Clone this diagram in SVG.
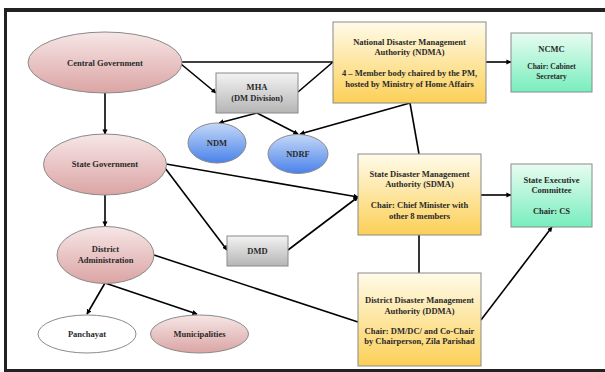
<svg xmlns="http://www.w3.org/2000/svg" width="605" height="372" viewBox="0 0 605 372">
<defs>
<linearGradient id="gPink" x1="0" y1="0" x2="0" y2="1"><stop offset="0" stop-color="#f7e6e6"/><stop offset="1" stop-color="#dba4a4"/></linearGradient>
<linearGradient id="gBlue" x1="0" y1="0" x2="0" y2="1"><stop offset="0" stop-color="#c4d8f7"/><stop offset="1" stop-color="#4a82ea"/></linearGradient>
<linearGradient id="gGray" x1="0" y1="0" x2="0" y2="1"><stop offset="0" stop-color="#f3f3f3"/><stop offset="1" stop-color="#b5b5b5"/></linearGradient>
<linearGradient id="gYellow" x1="0" y1="0" x2="0" y2="1"><stop offset="0" stop-color="#fffbea"/><stop offset="1" stop-color="#fcd057"/></linearGradient>
<linearGradient id="gGreen" x1="0" y1="0" x2="0" y2="1"><stop offset="0" stop-color="#e8fcf1"/><stop offset="1" stop-color="#78eebd"/></linearGradient>
<marker id="arr" viewBox="0 0 10 10" refX="9" refY="5" markerWidth="3.2" markerHeight="3.2" orient="auto" markerUnits="strokeWidth"><path d="M0,0 L10,5 L0,10 z" fill="#000"/></marker>
</defs>
<style>
.nd{stroke:#8a8a8a;stroke-width:1}
.t{font-family:"Liberation Serif","Times New Roman",serif;font-weight:bold;font-size:8.5px;fill:#2a2a2a;text-anchor:middle}
.s{font-size:7.5px}
.c{fill:none;stroke:#000;stroke-width:1.6}
.a{marker-end:url(#arr)}
</style>
<rect x="0" y="0" width="605" height="372" fill="#fff"/>
<g id="frame" fill="#222">
<rect x="4" y="8" width="601" height="4"/>
<rect x="4" y="8" width="3" height="364"/>
<rect x="4" y="369" width="601" height="3"/>
</g>
<g id="connectors">
<line class="c" x1="182" y1="62" x2="333" y2="62"/>
<line class="c a" x1="181" y1="64" x2="216" y2="93"/>
<line class="c" x1="298" y1="92" x2="333" y2="62"/>
<line class="c a" x1="105" y1="93" x2="105" y2="134"/>
<line class="c a" x1="257" y1="113" x2="219" y2="123"/>
<line class="c a" x1="257" y1="113" x2="298" y2="134"/>
<line class="c a" x1="410" y1="103" x2="300" y2="134"/>
<line class="c" x1="410" y1="103" x2="419" y2="154"/>
<line class="c a" x1="486" y1="62" x2="511" y2="62"/>
<line class="c a" x1="166" y1="164" x2="358" y2="197"/>
<line class="c a" x1="165" y1="168" x2="227" y2="250"/>
<line class="c a" x1="288" y1="250" x2="358" y2="197"/>
<line class="c a" x1="481" y1="195" x2="511" y2="195"/>
<line class="c a" x1="105" y1="195" x2="105" y2="226"/>
<line class="c" x1="419" y1="235" x2="419" y2="273"/>
<line class="c" x1="154" y1="255" x2="358" y2="322"/>
<line class="c a" x1="481" y1="320" x2="552" y2="227"/>
<line class="c a" x1="105" y1="283" x2="87" y2="314"/>
<line class="c a" x1="105" y1="283" x2="197" y2="314"/>
</g>
<g id="central-government">
<ellipse class="nd" cx="105" cy="62.5" rx="77" ry="30.5" fill="url(#gPink)"/>
<text class="t" x="105" y="65.5">Central Government</text>
</g>
<g id="mha">
<rect class="nd" x="216" y="73" width="82" height="40" fill="url(#gGray)"/>
<text class="t" x="257" y="90">MHA</text>
<text class="t" x="257" y="101">(DM Division)</text>
</g>
<g id="ndma">
<rect class="nd" x="333" y="22" width="153" height="81" fill="url(#gYellow)"/>
<text class="t" x="409.5" y="45">National Disaster Management</text>
<text class="t" x="409.5" y="55">Authority (NDMA)</text>
<text class="t" x="409.5" y="76">4 – Member body chaired by the PM,</text>
<text class="t" x="409.5" y="87">hosted by Ministry of Home Affairs</text>
</g>
<g id="ncmc">
<rect class="nd" x="511" y="33" width="81" height="59" fill="url(#gGreen)"/>
<text class="t" x="551.5" y="52">NCMC</text>
<text class="t s" x="551.5" y="69">Chair: Cabinet</text>
<text class="t s" x="551.5" y="79">Secretary</text>
</g>
<g id="ndm">
<ellipse class="nd" cx="217" cy="143" rx="29" ry="20" fill="url(#gBlue)"/>
<text class="t" x="217" y="146">NDM</text>
</g>
<g id="ndrf">
<ellipse class="nd" cx="298" cy="154" rx="30" ry="19.5" fill="url(#gBlue)"/>
<text class="t" x="298" y="157">NDRF</text>
</g>
<g id="state-government">
<ellipse class="nd" cx="105" cy="164.5" rx="61.5" ry="30.5" fill="url(#gPink)"/>
<text class="t" x="105" y="167">State Government</text>
</g>
<g id="sdma">
<rect class="nd" x="358" y="154" width="123" height="81" fill="url(#gYellow)"/>
<text class="t" x="419.5" y="177">State Disaster Management</text>
<text class="t" x="419.5" y="187">Authority (SDMA)</text>
<text class="t" x="419.5" y="208">Chair: Chief Minister with</text>
<text class="t" x="419.5" y="219">other 8 members</text>
</g>
<g id="state-executive-committee">
<rect class="nd" x="511" y="164" width="81" height="63" fill="url(#gGreen)"/>
<text class="t" x="551.5" y="183">State Executive</text>
<text class="t" x="551.5" y="193">Committee</text>
<text class="t" x="551.5" y="214">Chair: CS</text>
</g>
<g id="dmd">
<rect class="nd" x="227" y="236" width="61" height="30" fill="url(#gGray)"/>
<text class="t" x="257.5" y="254">DMD</text>
</g>
<g id="district-administration">
<ellipse class="nd" cx="105.5" cy="255" rx="48.5" ry="28.5" fill="url(#gPink)"/>
<text class="t" x="105.5" y="252">District</text>
<text class="t" x="105.5" y="263">Administration</text>
</g>
<g id="ddma">
<rect class="nd" x="358" y="273" width="123" height="93" fill="url(#gYellow)"/>
<text class="t" x="419.5" y="303">District Disaster Management</text>
<text class="t" x="419.5" y="314">Authority (DDMA)</text>
<text class="t" x="419.5" y="334">Chair: DM/DC/ and Co-Chair</text>
<text class="t" x="419.5" y="344">by Chairperson, Zila Parishad</text>
</g>
<g id="panchayat">
<ellipse class="nd" cx="87" cy="334" rx="49" ry="19" fill="#fff"/>
<text class="t" x="87" y="337">Panchayat</text>
</g>
<g id="municipalities">
<ellipse class="nd" cx="199.5" cy="334" rx="49" ry="19" fill="url(#gPink)"/>
<text class="t" x="199.5" y="337">Municipalities</text>
</g>
</svg>
